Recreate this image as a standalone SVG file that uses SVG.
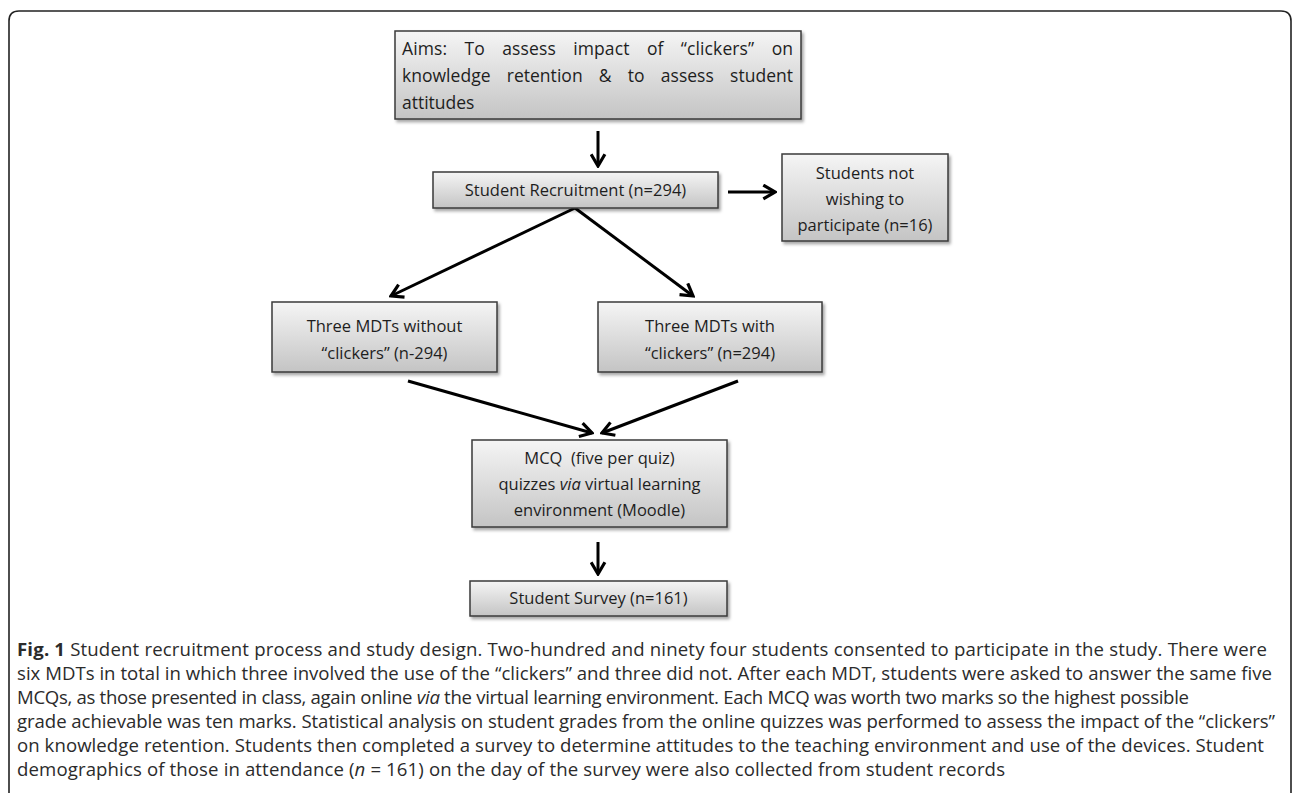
<svg xmlns="http://www.w3.org/2000/svg" width="1293" height="793" viewBox="0 0 1293 793">
<defs>
<linearGradient id="g" x1="0" y1="0" x2="0" y2="1"><stop offset="0" stop-color="#f5f5f5"/><stop offset="1" stop-color="#c4c4c4"/></linearGradient>
<filter id="sh" x="-5%" y="-10%" width="115%" height="130%"><feDropShadow dx="2" dy="2.5" stdDeviation="1.5" flood-color="#000" flood-opacity="0.35"/></filter>
<marker id="ah" viewBox="0 0 16 16" refX="14" refY="8" markerWidth="17" markerHeight="17" markerUnits="userSpaceOnUse" orient="auto"><path d="M3,1.5 L14,8 L3,14.5" fill="none" stroke="#000" stroke-width="3"/></marker>
</defs>
<style>
.box{fill:url(#g);stroke:#3a3a3a;stroke-width:1.5;filter:url(#sh)}
.t{font-family:"Open Sans","Liberation Sans",sans-serif;font-size:16.5px;fill:#1e1e1e;text-anchor:middle}
.a{font-family:"Open Sans","Liberation Sans",sans-serif;font-size:17.5px;fill:#1e1e1e}
.c{font-family:"Open Sans","Liberation Sans",sans-serif;font-size:18.6px;fill:#2b2b2b}
.edge{stroke:#000;stroke-width:3;fill:none;marker-end:url(#ah)}
.frame{fill:none;stroke:#222;stroke-width:1.6}
</style>
<path class="frame" d="M9,800 L9,21 Q9,11 19,11 L1281,11 Q1291,11 1291,21 L1291,800"/>
<g id="connectors">
<path class="edge" d="M598,131 L598,166"/>
<path class="edge" d="M728,192 L775,192"/>
<path class="edge" d="M575,208 L391,296"/>
<path class="edge" d="M575,208 L693,296"/>
<path class="edge" d="M408,381 L592,433"/>
<path class="edge" d="M738,381 L602,433"/>
<path class="edge" d="M598,542 L598,574"/>
</g>
<g id="aims">
<rect class="box" x="395" y="31" width="406" height="88"/>
<text class="a" x="402" y="55" style="word-spacing:12.7px" textLength="391" lengthAdjust="spacing">Aims: To assess impact of “clickers” on</text>
<text class="a" x="402" y="82" style="word-spacing:11.6px" textLength="391" lengthAdjust="spacing">knowledge retention &amp; to assess student</text>
<text class="a" x="402" y="109">attitudes</text>
</g>
<g id="recruitment">
<rect class="box" x="433" y="172" width="285" height="36"/>
<text class="t" x="575.5" y="196">Student Recruitment (n=294)</text>
</g>
<g id="notwishing">
<rect class="box" x="782" y="154" width="166" height="87"/>
<text class="t" x="865" y="179">Students not</text>
<text class="t" x="865" y="205">wishing to</text>
<text class="t" x="865" y="231">participate (n=16)</text>
</g>
<g id="without">
<rect class="box" x="272" y="302" width="225" height="70"/>
<text class="t" x="384.5" y="332">Three MDTs without</text>
<text class="t" x="384.5" y="359">“clickers” (n-294)</text>
</g>
<g id="with">
<rect class="box" x="598" y="302" width="224" height="70"/>
<text class="t" x="710" y="332">Three MDTs with</text>
<text class="t" x="710" y="359">“clickers” (n=294)</text>
</g>
<g id="mcq">
<rect class="box" x="472" y="440" width="255" height="87"/>
<text class="t" x="599.5" y="464" xml:space="preserve">MCQ  (five per quiz)</text>
<text class="t" x="599.5" y="490">quizzes <tspan font-style="italic">via</tspan> virtual learning</text>
<text class="t" x="599.5" y="516">environment (Moodle)</text>
</g>
<g id="survey">
<rect class="box" x="470" y="581" width="257" height="35"/>
<text class="t" x="598.5" y="604">Student Survey (n=161)</text>
</g>
<g id="caption">
<text class="c" x="17" y="656" textLength="1250" lengthAdjust="spacing"><tspan font-weight="bold">Fig. 1</tspan> Student recruitment process and study design. Two-hundred and ninety four students consented to participate in the study. There were</text>
<text class="c" x="17" y="680" textLength="1255" lengthAdjust="spacing">six MDTs in total in which three involved the use of the “clickers” and three did not. After each MDT, students were asked to answer the same five</text>
<text class="c" x="17" y="704" textLength="1172" lengthAdjust="spacing">MCQs, as those presented in class, again online <tspan font-style="italic">via</tspan> the virtual learning environment. Each MCQ was worth two marks so the highest possible</text>
<text class="c" x="17" y="728" textLength="1258" lengthAdjust="spacing">grade achievable was ten marks. Statistical analysis on student grades from the online quizzes was performed to assess the impact of the “clickers”</text>
<text class="c" x="17" y="752" textLength="1247" lengthAdjust="spacing">on knowledge retention. Students then completed a survey to determine attitudes to the teaching environment and use of the devices. Student</text>
<text class="c" x="17" y="776" textLength="988" lengthAdjust="spacing">demographics of those in attendance (<tspan font-style="italic">n</tspan> = 161) on the day of the survey were also collected from student records</text>
</g>
</svg>
